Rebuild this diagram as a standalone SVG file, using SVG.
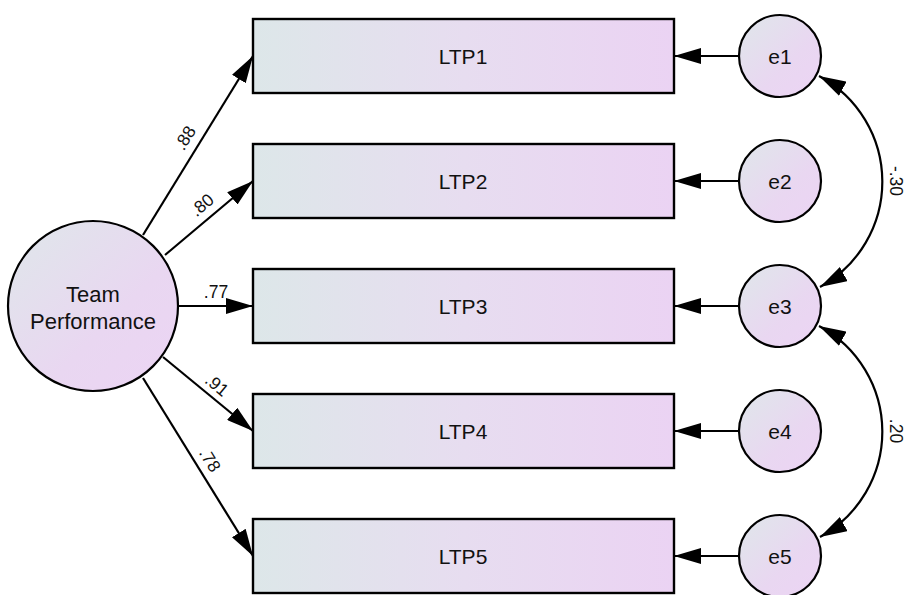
<svg xmlns="http://www.w3.org/2000/svg" width="907" height="595" viewBox="0 0 907 595">
  <defs>
    <linearGradient id="boxFill" x1="0" y1="0" x2="1" y2="0">
      <stop offset="0" stop-color="#dde7e9"/>
      <stop offset="0.5" stop-color="#e7ddf0"/>
      <stop offset="1" stop-color="#ebd3f3"/>
    </linearGradient>
    <linearGradient id="circFill" x1="0" y1="0" x2="1" y2="1">
      <stop offset="0" stop-color="#dfe7ea"/>
      <stop offset="0.6" stop-color="#e9d7f1"/>
      <stop offset="1" stop-color="#ecd4f4"/>
    </linearGradient>
    <marker id="head" viewBox="0 0 27 16" refX="27" refY="8" markerWidth="27" markerHeight="16" markerUnits="userSpaceOnUse" orient="auto-start-reverse">
      <path d="M0,0 L27,8 L0,16 Z" fill="#000"/>
    </marker>
  </defs>
  <style>
    .box { fill: url(#boxFill); stroke: #000; stroke-width: 2.4; }
    .circ { fill: url(#circFill); stroke: #000; stroke-width: 2.2; }
    .lbl { font-family: "Liberation Sans", Arial, sans-serif; font-size: 21px; fill: #111; text-anchor: middle; dominant-baseline: central; }
    .big { font-size: 22px; }
    .coef { font-family: "Liberation Sans", Arial, sans-serif; font-size: 17.5px; fill: #111; text-anchor: middle; dominant-baseline: central; }
    .edge { fill: none; stroke: #000; stroke-width: 2.2; marker-end: url(#head); }
    .cov { fill: none; stroke: #000; stroke-width: 2.2; marker-start: url(#head); marker-end: url(#head); }
  </style>

  <!-- connectors -->
  <g id="connectors">
    <path class="edge" d="M143,235 L253,56"/>
    <path class="edge" d="M165,255 L253,181"/>
    <path class="edge" d="M178,306 L253,306"/>
    <path class="edge" d="M163,357 L253,431"/>
    <path class="edge" d="M143,378 L253,556"/>
    <path class="edge" d="M739,56 L674,56"/>
    <path class="edge" d="M739,181 L674,181"/>
    <path class="edge" d="M739,306 L674,306"/>
    <path class="edge" d="M739,431 L674,431"/>
    <path class="edge" d="M739,556 L674,556"/>
    <path class="cov" d="M819,76 A120,120 0 0 1 820,287"/>
    <path class="cov" d="M819,326 A120,120 0 0 1 820,537"/>
    <text class="coef" transform="translate(185,138) rotate(-58.4)">.88</text>
    <text class="coef" transform="translate(202,205) rotate(-40)">.80</text>
    <text class="coef" x="216" y="292">.77</text>
    <text class="coef" transform="translate(217,385) rotate(39.4)">.91</text>
    <text class="coef" transform="translate(210,460) rotate(58.3)">.78</text>
    <text class="coef" transform="translate(896,181) rotate(90)">-.30</text>
    <text class="coef" transform="translate(896,431) rotate(90)">.20</text>
  </g>

  <!-- latent factor -->
  <g id="team-performance">
    <circle class="circ" cx="93" cy="306" r="85"/>
    <text class="lbl big" x="93" y="294">Team</text>
    <text class="lbl big" x="93" y="321">Performance</text>
  </g>

  <!-- observed indicators -->
  <g id="LTP1"><rect class="box" x="253" y="19" width="421" height="74"/><text class="lbl" x="463" y="56">LTP1</text></g>
  <g id="LTP2"><rect class="box" x="253" y="144" width="421" height="74"/><text class="lbl" x="463" y="181">LTP2</text></g>
  <g id="LTP3"><rect class="box" x="253" y="269" width="421" height="74"/><text class="lbl" x="463" y="306">LTP3</text></g>
  <g id="LTP4"><rect class="box" x="253" y="394" width="421" height="74"/><text class="lbl" x="463" y="431">LTP4</text></g>
  <g id="LTP5"><rect class="box" x="253" y="519" width="421" height="74"/><text class="lbl" x="463" y="556">LTP5</text></g>

  <!-- error terms -->
  <g id="e1"><circle class="circ" cx="780" cy="56" r="41"/><text class="lbl" x="780" y="56">e1</text></g>
  <g id="e2"><circle class="circ" cx="780" cy="181" r="41"/><text class="lbl" x="780" y="181">e2</text></g>
  <g id="e3"><circle class="circ" cx="780" cy="306" r="41"/><text class="lbl" x="780" y="306">e3</text></g>
  <g id="e4"><circle class="circ" cx="780" cy="431" r="41"/><text class="lbl" x="780" y="431">e4</text></g>
  <g id="e5"><circle class="circ" cx="780" cy="556" r="41"/><text class="lbl" x="780" y="556">e5</text></g>
</svg>
